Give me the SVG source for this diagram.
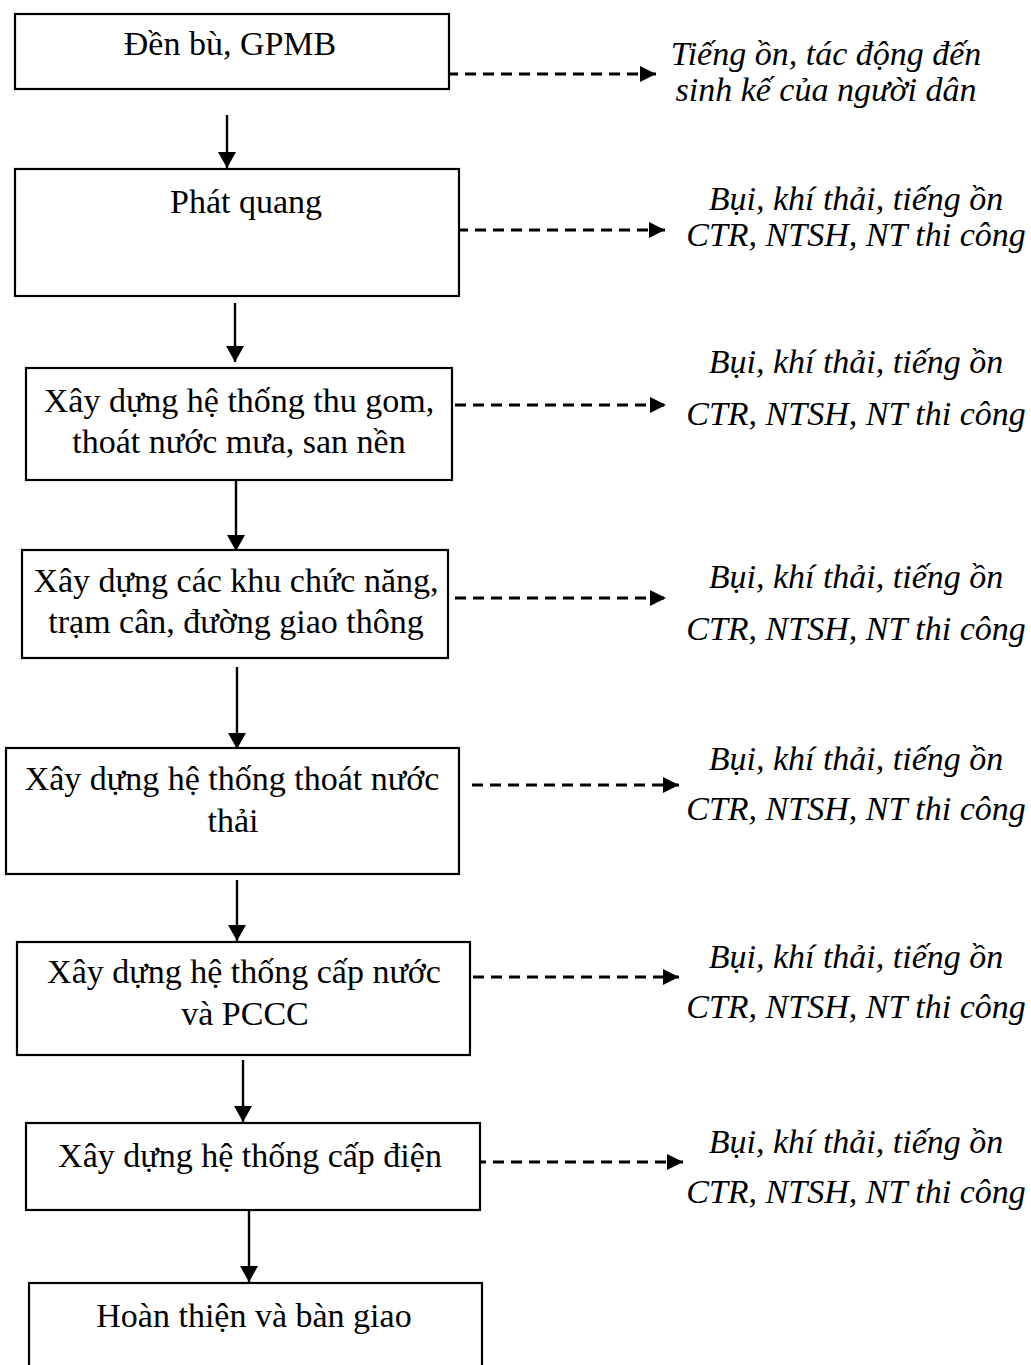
<svg xmlns="http://www.w3.org/2000/svg" width="1031" height="1365" viewBox="0 0 1031 1365">
<style>
.box{fill:#fff;stroke:#000;stroke-width:2.2}
.t{font-family:"Liberation Serif","Times New Roman",serif;font-size:34px;fill:#000;text-anchor:middle}
.i{font-style:italic}
.solid{stroke:#000;stroke-width:2.4;fill:none}
.dash{stroke:#000;stroke-width:3;fill:none;stroke-dasharray:11 7}
</style>
<defs>
<marker id="ah" markerUnits="userSpaceOnUse" markerWidth="18" markerHeight="20" refX="16" refY="9" orient="auto">
<path d="M0,0 L16,9 L0,18 z" fill="#000"/>
</marker>
<marker id="ad" markerUnits="userSpaceOnUse" markerWidth="18" markerHeight="18" refX="16" refY="8" orient="auto">
<path d="M0,0 L16,8 L0,16 z" fill="#000"/>
</marker>
</defs>
<g id="connectors">
<line class="solid" x1="227" y1="115" x2="227" y2="168" marker-end="url(#ah)"/>
<line class="solid" x1="235" y1="303" x2="235" y2="362" marker-end="url(#ah)"/>
<line class="solid" x1="236" y1="477" x2="236" y2="551" marker-end="url(#ah)"/>
<line class="solid" x1="237" y1="667" x2="237" y2="749" marker-end="url(#ah)"/>
<line class="solid" x1="237" y1="880" x2="237" y2="941" marker-end="url(#ah)"/>
<line class="solid" x1="243" y1="1060" x2="243" y2="1122" marker-end="url(#ah)"/>
<line class="solid" x1="249" y1="1210" x2="249" y2="1282" marker-end="url(#ah)"/>
<line class="dash" x1="447" y1="74" x2="656" y2="74" marker-end="url(#ad)"/>
<line class="dash" x1="457" y1="230" x2="665" y2="230" marker-end="url(#ad)"/>
<line class="dash" x1="455" y1="405" x2="666" y2="405" marker-end="url(#ad)"/>
<line class="dash" x1="455" y1="598" x2="666" y2="598" marker-end="url(#ad)"/>
<line class="dash" x1="472" y1="785" x2="679" y2="785" marker-end="url(#ad)"/>
<line class="dash" x1="473" y1="977" x2="679" y2="977" marker-end="url(#ad)"/>
<line class="dash" x1="475" y1="1162" x2="683" y2="1162" marker-end="url(#ad)"/>
</g>
<g id="n1"><rect class="box" x="15" y="14" width="434" height="75"/><text class="t" x="230" y="55">Đền bù, GPMB</text></g>
<g id="n2"><rect class="box" x="15" y="169" width="444" height="127"/><text class="t" x="246" y="213">Phát quang</text></g>
<g id="n3"><rect class="box" x="26" y="368" width="426" height="112"/><text class="t" x="239" y="412">Xây dựng hệ thống thu gom,</text><text class="t" x="239" y="453">thoát nước mưa, san nền</text></g>
<g id="n4"><rect class="box" x="22" y="550" width="426" height="108"/><text class="t" x="236" y="592">Xây dựng các khu chức năng,</text><text class="t" x="236" y="633">trạm cân, đường giao thông</text></g>
<g id="n5"><rect class="box" x="6" y="748" width="453" height="126"/><text class="t" x="232" y="790">Xây dựng hệ thống thoát nước</text><text class="t" x="233" y="832">thải</text></g>
<g id="n6"><rect class="box" x="17" y="942" width="453" height="113"/><text class="t" x="244" y="983">Xây dựng hệ thống cấp nước</text><text class="t" x="245" y="1025">và PCCC</text></g>
<g id="n7"><rect class="box" x="26" y="1123" width="454" height="87"/><text class="t" x="250" y="1167">Xây dựng hệ thống cấp điện</text></g>
<g id="n8"><rect class="box" x="29" y="1283" width="453" height="100"/><text class="t" x="254" y="1327">Hoàn thiện và bàn giao</text></g>
<g id="r1"><text class="t i" x="826" y="65">Tiếng ồn, tác động đến</text><text class="t i" x="826" y="101">sinh kế của người dân</text></g>
<g id="r2"><text class="t i" x="856" y="210">Bụi, khí thải, tiếng ồn</text><text class="t i" x="856" y="246">CTR, NTSH, NT thi công</text></g>
<g id="r3"><text class="t i" x="856" y="373">Bụi, khí thải, tiếng ồn</text><text class="t i" x="856" y="425">CTR, NTSH, NT thi công</text></g>
<g id="r4"><text class="t i" x="856" y="588">Bụi, khí thải, tiếng ồn</text><text class="t i" x="856" y="640">CTR, NTSH, NT thi công</text></g>
<g id="r5"><text class="t i" x="856" y="770">Bụi, khí thải, tiếng ồn</text><text class="t i" x="856" y="820">CTR, NTSH, NT thi công</text></g>
<g id="r6"><text class="t i" x="856" y="968">Bụi, khí thải, tiếng ồn</text><text class="t i" x="856" y="1018">CTR, NTSH, NT thi công</text></g>
<g id="r7"><text class="t i" x="856" y="1153">Bụi, khí thải, tiếng ồn</text><text class="t i" x="856" y="1203">CTR, NTSH, NT thi công</text></g>
</svg>
